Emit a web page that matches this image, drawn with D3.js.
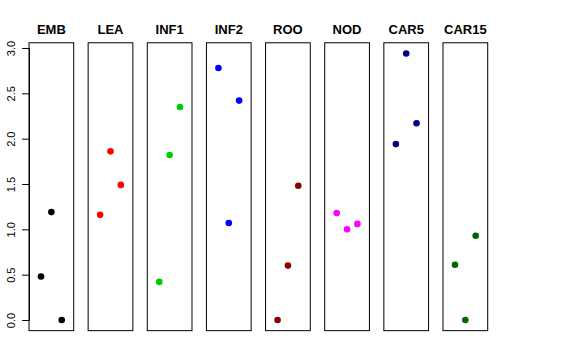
<!DOCTYPE html>
<html><head><meta charset="utf-8">
<script src="https://d3js.org/d3.v7.min.js"></script>
<style>body{margin:0;background:#fff;}svg{display:block;font-family:"Liberation Sans",Arial,sans-serif;}</style>
</head><body>
<svg id="chart" width="576" height="360"></svg>
<script>
const categories = ["EMB","LEA","INF1","INF2","ROO","NOD","CAR5","CAR15"];
const colors = ["#000000","#FF0000","#00CD00","#0000FF","#8B0000","#FF00FF","#00008B","#006400"];
const positions = [1,2,3];
const values = {
  EMB:   [0.48, 1.19, 0.00],
  LEA:   [1.16, 1.86, 1.49],
  INF1:  [0.42, 1.82, 2.35],
  INF2:  [2.78, 1.07, 2.42],
  ROO:   [0.00, 0.60, 1.48],
  NOD:   [1.18, 1.00, 1.06],
  CAR5:  [1.94, 2.94, 2.17],
  CAR15: [0.61, 0.00, 0.93]
};
const yTicks = [0, 0.5, 1, 1.5, 2, 2.5, 3];
const yTickLabels = ["0.0","0.5","1.0","1.5","2.0","2.5","3.0"];

const svg = d3.select("#chart");
const yMax = d3.max(Object.values(values).flat());
const ext = yMax * 0.04;
const y = d3.scaleLinear().domain([0, 3]).range([320, 48]);
const panel = d3.scaleBand().domain(categories).range([29, 487.7]).paddingInner(0.244).paddingOuter(0);
const bw = panel.bandwidth();
const xIn = d3.scaleLinear().domain([-0.16, 4.16]).range([0, bw]);

categories.forEach((c, i) => {
  const g = svg.append("g").attr("transform", `translate(${panel(c)},0)`);
  g.append("rect")
    .attr("x", 0).attr("y", y(yMax + ext))
    .attr("width", bw).attr("height", y(-ext) - y(yMax + ext))
    .attr("fill", "none").attr("stroke", "#000").attr("stroke-width", 1);
  g.selectAll("circle").data(values[c]).enter().append("circle")
    .attr("cx", (d, j) => xIn(positions[j]))
    .attr("cy", d => y(d))
    .attr("r", 3.3)
    .attr("fill", colors[i]);
  g.append("text")
    .attr("x", bw / 2).attr("y", 34)
    .attr("text-anchor", "middle")
    .attr("font-weight", "bold").attr("font-size", 13)
    .text(c);
});

const axis = d3.axisLeft(y).tickValues(yTicks)
  .tickFormat((d, i) => yTickLabels[i]).tickSize(7).tickPadding(4);
const ag = svg.append("g").attr("transform", "translate(29,0)").call(axis);
ag.select(".domain").attr("stroke", "#000");
ag.selectAll(".tick line").attr("stroke", "#000");
ag.selectAll(".tick text")
  .attr("font-size", 11).attr("fill", "#000")
  .attr("font-family", "Liberation Sans, Arial, sans-serif")
  .attr("transform", "rotate(-90)")
  .attr("x", 0).attr("y", -18)
  .attr("dy", "0.35em")
  .attr("text-anchor", "middle");
</script>
</body></html>
